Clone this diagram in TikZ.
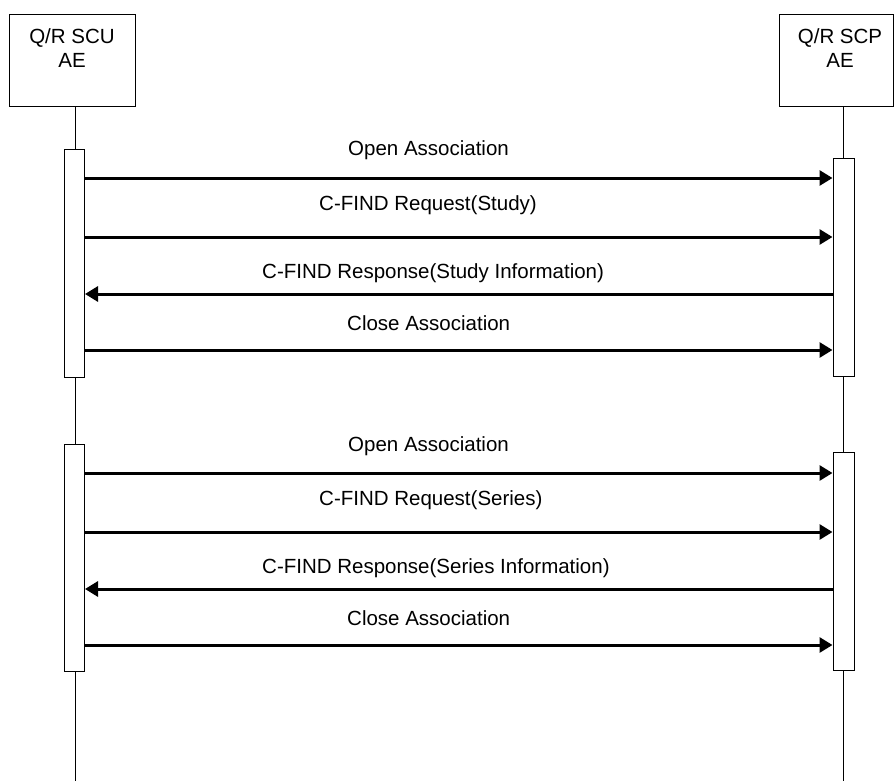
\documentclass[tikz,border=0pt]{standalone}
\usepackage{fontspec}
\setmainfont{Liberation Sans}
\usetikzlibrary{arrows.meta, positioning}

\begin{document}
\begin{tikzpicture}[
  x=1pt, y=-1pt,
  actor/.style={rectangle, draw, line width=1pt, inner sep=0pt, minimum height=92pt},
  actortext/.style={anchor=north, inner sep=0pt, align=center, font=\fontsize{20.5}{24}\selectfont},
  lifeline/.style={line width=1pt},
  activation/.style={rectangle, draw, line width=1pt, fill=white, inner sep=0pt},
  msg/.style={-{Triangle[length=13pt, width=15pt]}, line width=3pt},
  msglabel/.style={anchor=base west, inner sep=0pt, font=\fontsize{20.5}{24}\selectfont}
]
\useasboundingbox (0,0) rectangle (894,781);

% Actors
\node[actor, minimum width=126pt] (scu) at (72,61)  {};
\node[actor, minimum width=114pt] (scp) at (836,61) {};
\node[actortext] (scuText) at (72,28)  {Q/R SCU\\AE};
\node[actortext] (scpText) at (840,28) {Q/R SCP\\AE};

% Lifelines
\coordinate (scuEnd) at (75,781);
\coordinate (scpEnd) at (843,781);
\draw[lifeline] (scu.south -| scuEnd) -- (scuEnd);
\draw[lifeline] (scp.south -| scpEnd) -- (scpEnd);

% Activation bars
\node[activation, minimum width=20pt, minimum height=227pt] (scuAct1) at (74.5,263.5) {};
\node[activation, minimum width=20pt, minimum height=227pt] (scuAct2) at (74.5,557.5) {};
\node[activation, minimum width=21pt, minimum height=218pt] (scpAct1) at (843.5,267) {};
\node[activation, minimum width=21pt, minimum height=218pt] (scpAct2) at (843.5,561) {};

% Study query
\node[msglabel] (open1)  at (348,156) {Open Association};
\node[msglabel] (req1)   at (319,210) {C-FIND Request(Study)};
\node[msglabel] (resp1)  at (262,278) {C-FIND Response(Study Information)};
\node[msglabel] (close1) at (347,330) {Close Association};
\draw[msg] (scuAct1.east |- 0,178) -- (scpAct1.west |- 0,178);
\draw[msg] (scuAct1.east |- 0,237) -- (scpAct1.west |- 0,237);
\draw[msg] (scpAct1.west |- 0,294) -- (scuAct1.east |- 0,294);
\draw[msg] (scuAct1.east |- 0,350) -- (scpAct1.west |- 0,350);

% Series query
\node[msglabel] (open2)  at (348,451) {Open Association};
\node[msglabel] (req2)   at (319,505) {C-FIND Request(Series)};
\node[msglabel] (resp2)  at (262,573) {C-FIND Response(Series Information)};
\node[msglabel] (close2) at (347,625) {Close Association};
\draw[msg] (scuAct2.east |- 0,473) -- (scpAct2.west |- 0,473);
\draw[msg] (scuAct2.east |- 0,532) -- (scpAct2.west |- 0,532);
\draw[msg] (scpAct2.west |- 0,589) -- (scuAct2.east |- 0,589);
\draw[msg] (scuAct2.east |- 0,645) -- (scpAct2.west |- 0,645);

\end{tikzpicture}
\end{document}
